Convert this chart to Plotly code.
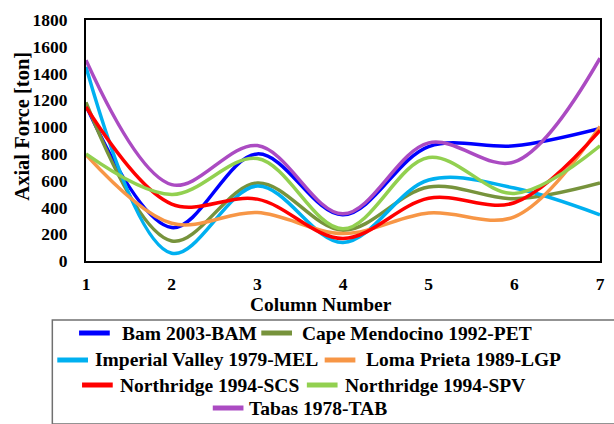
import plotly.graph_objects as go

# Column positions along the frame
columns = [1, 2, 3, 4, 5, 6, 7]

# Axial force per column for each ground motion record [ton]
bam_2003 = [1160, 250, 800, 345, 855, 860, 990]
cape_mendocino_1992 = [1185, 150, 583, 230, 553, 465, 583]
imperial_valley_1979 = [1450, 58, 560, 138, 605, 545, 345]
loma_prieta_1989 = [795, 282, 362, 205, 358, 330, 1005]
northridge_scs_1994 = [1150, 425, 462, 168, 468, 435, 975]
northridge_spv_1994 = [800, 497, 765, 240, 773, 505, 860]
tabas_1978 = [1500, 570, 862, 352, 882, 740, 1515]

series_names = [
    "Bam 2003-BAM",
    "Cape Mendocino 1992-PET",
    "Imperial Valley 1979-MEL",
    "Loma Prieta 1989-LGP",
    "Northridge 1994-SCS",
    "Northridge 1994-SPV",
    "Tabas 1978-TAB",
]
series_values = [
    bam_2003,
    cape_mendocino_1992,
    imperial_valley_1979,
    loma_prieta_1989,
    northridge_scs_1994,
    northridge_spv_1994,
    tabas_1978,
]
series_colors = ["#0000FF", "#77933C", "#00B0F0", "#F79646", "#FF0000", "#92D050", "#AB4BC2"]

y_ticks = list(range(0, 1801, 200))

W, H = 614, 424
M_L, M_R, M_T, M_B = 86, 9, 20, 163
PW, PH = W - M_L - M_R, H - M_T - M_B

FONT = "Liberation Serif"


def px_x(x):
    return (x - M_L) / PW


def px_y(y):
    return (H - M_B - y) / PH


fig = go.Figure()
for name, vals, col in zip(series_names, series_values, series_colors):
    fig.add_trace(go.Scatter(
        x=columns, y=vals, name=name, mode="lines",
        line=dict(color=col, width=3.5, shape="spline", smoothing=1.0),
        showlegend=False,
    ))

# Boxed legend laid out in centred rows
legend_rows = [
    [(0, 79, 120), (1, 263, 302)],
    [(2, 57, 93), (3, 327, 367)],
    [(4, 82, 118), (5, 309, 346)],
    [(6, 214, 249)],
]
row_y = [333, 360, 385, 408]
shapes = [dict(type="rect", xref="paper", yref="paper",
               x0=px_x(52), x1=px_x(640), y0=px_y(320), y1=px_y(424),
               line=dict(color="#707070", width=1.5), fillcolor="rgba(0,0,0,0)")]
annotations = []
for row, yy in zip(legend_rows, row_y):
    for idx, lx, tx in row:
        shapes.append(dict(type="line", xref="paper", yref="paper",
                           x0=px_x(lx), x1=px_x(lx + 31), y0=px_y(yy), y1=px_y(yy),
                           line=dict(color=series_colors[idx], width=5)))
        annotations.append(dict(text=f"<b>{series_names[idx]}</b>", xref="paper", yref="paper",
                                x=px_x(tx), y=px_y(yy), xanchor="left", yanchor="middle",
                                showarrow=False, font=dict(family=FONT, size=19.5, color="black")))

# Axis titles
annotations.append(dict(text="<b>Column Number</b>", xref="paper", yref="paper",
                        x=px_x(323), y=px_y(304), xanchor="center", yanchor="middle",
                        showarrow=False, font=dict(family=FONT, size=19.5, color="black")))
annotations.append(dict(text="<b>Axial Force [ton]</b>", xref="paper", yref="paper",
                        x=px_x(21), y=px_y(126), xanchor="center", yanchor="middle",
                        textangle=-90, showarrow=False,
                        font=dict(family=FONT, size=20.5, color="black")))

fig.update_layout(
    width=W, height=H,
    margin=dict(l=M_L, r=M_R, t=M_T, b=M_B),
    paper_bgcolor="white", plot_bgcolor="white",
    font=dict(family=FONT, color="black"),
    shapes=shapes, annotations=annotations,
)
fig.update_xaxes(
    range=[1, 7], tickvals=columns, ticktext=[f"<b>{c}</b>" for c in columns],
    tickfont=dict(family=FONT, size=17.5), showgrid=False, zeroline=False,
    showline=True, linecolor="black", linewidth=2, mirror=True,
    ticks="", ticklabelstandoff=6,
)
fig.update_yaxes(
    range=[0, 1800], tickvals=y_ticks, ticktext=[f"<b>{v}</b>" for v in y_ticks],
    tickfont=dict(family=FONT, size=17.5), showgrid=False, zeroline=False,
    showline=True, linecolor="black", linewidth=2, mirror=True,
    ticks="", ticklabelstandoff=13,
)

fig.write_html("out.html")
